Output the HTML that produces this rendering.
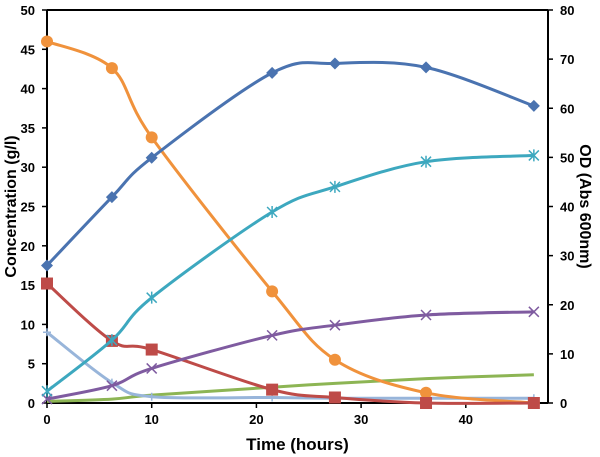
<!DOCTYPE html>
<html><head><meta charset="utf-8">
<style>
body{margin:0;background:#fff;}
svg{display:block;font-family:"Liberation Sans",sans-serif;}
</style></head>
<body>
<svg id="chart" width="600" height="457" viewBox="0 0 600 457"></svg>
<script>
const times=[0,6.2,10,21.5,27.5,36.2,46.5];
const blueDiamond=[17.5,26.2,31.2,42,43.2,42.7,37.8];
const orangeCircle=[46,42.6,33.8,14.2,5.5,1.3,0];
const tealStar=[1.5,8,13.4,24.3,27.5,30.7,31.5];
const purpleX=[0.5,2.2,4.4,8.6,9.9,11.2,11.6];
const redSquare=[15.2,7.9,6.8,1.7,0.7,0,0];
const lightBlue=[9,2.6,0.8,0.7,0.6,0.6,0.6];
const green=[0.2,0.5,1.0,2.0,2.5,3.1,3.6];
const xTicks=[0,10,20,30,40];
const yTicks=[0,5,10,15,20,25,30,35,40,45,50];
const y2Ticks=[0,10,20,30,40,50,60,70,80];

const svg=document.getElementById('chart');
const NS='http://www.w3.org/2000/svg';
const X0=47,X1=548,Y0=403,Y1=10,XMAX=47.85;
const xs=t=>X0+t*(X1-X0)/XMAX;
const ys=v=>Y0-v*(Y0-Y1)/50;
const ys2=v=>Y0-v*(Y0-Y1)/80;
function mk(tag,attrs,parent){const e=document.createElementNS(NS,tag);for(const k in attrs)e.setAttribute(k,attrs[k]);(parent||svg).appendChild(e);return e;}

let ax=mk('line',{x1:X0,y1:Y1,x2:X0,y2:Y0,stroke:'#000','stroke-width':2});


ax=mk('line',{x1:X1,y1:Y1,x2:X1,y2:Y0,stroke:'#000','stroke-width':2});


ax=mk('line',{x1:X0,y1:Y1,x2:X1,y2:Y1,stroke:'#000','stroke-width':2});


ax=mk('line',{x1:X0,y1:Y0,x2:X1,y2:Y0,stroke:'#000','stroke-width':2});



xTicks.forEach(t=>{
  mk('line',{x1:xs(t),y1:Y0,x2:xs(t),y2:Y0+5,stroke:'#000','stroke-width':1.5});
  const tx=mk('text',{x:xs(t),y:Y0+21,'text-anchor':'middle','font-size':13,'font-weight':'bold'});
  tx.textContent=t;
  
  
});
yTicks.forEach(v=>{
  mk('line',{x1:X0-5,y1:ys(v),x2:X0,y2:ys(v),stroke:'#000','stroke-width':1.5});
  const tx=mk('text',{x:X0-12,y:ys(v)+5,'text-anchor':'end','font-size':13,'font-weight':'bold'});
  tx.textContent=v;
  
  
});
y2Ticks.forEach(v=>{
  mk('line',{x1:X1,y1:ys2(v),x2:X1+5,y2:ys2(v),stroke:'#000','stroke-width':1.5});
  const tx=mk('text',{x:X1+12,y:ys2(v)+5,'text-anchor':'start','font-size':13,'font-weight':'bold'});
  tx.textContent=v;
  
  
});
let t=mk('text',{x:(X0+X1)/2,y:450,'text-anchor':'middle','font-size':17,'font-weight':'bold'});
t.textContent='Time (hours)';


t=mk('text',{x:0,y:0,'text-anchor':'middle','font-size':16,'font-weight':'bold',transform:`translate(16,${(Y0+Y1)/2}) rotate(-90)`});
t.textContent='Concentration (g/l)';


t=mk('text',{x:0,y:0,'text-anchor':'middle','font-size':16,'font-weight':'bold',transform:`translate(580,${(Y0+Y1)/2}) rotate(90)`});
t.textContent='OD (Abs 600nm)';



function smooth(pts){
  let d=`M${pts[0][0]},${pts[0][1]}`;
  for(let i=0;i<pts.length-1;i++){
    const p0=pts[i-1]||pts[i],p1=pts[i],p2=pts[i+1],p3=pts[i+2]||p2;
    const k=1/6;
    d+=` C${p1[0]+(p2[0]-p0[0])*k},${p1[1]+(p2[1]-p0[1])*k} ${p2[0]-(p3[0]-p1[0])*k},${p2[1]-(p3[1]-p1[1])*k} ${p2[0]},${p2[1]}`;
  }
  return d;
}
function series(name,vals,color,marker){
  const g=mk('g',{});
  
  
  const pts=times.map((tt,i)=>[xs(tt),ys(vals[i])]);
  mk('path',{d:smooth(pts),fill:'none',stroke:color,'stroke-width':3},g);
  pts.forEach(([x,y])=>{
    let m;
    if(marker==='diamond')m=mk('path',{d:`M${x},${y-6}L${x+6},${y}L${x},${y+6}L${x-6},${y}Z`,fill:color},g);
    else if(marker==='circle')m=mk('circle',{cx:x,cy:y,r:6,fill:color},g);
    else if(marker==='square')m=mk('rect',{x:x-6,y:y-6,width:12,height:12,fill:color},g);
    else if(marker==='x')m=mk('path',{d:`M${x-5},${y-5}L${x+5},${y+5}M${x-5},${y+5}L${x+5},${y-5}`,stroke:color,'stroke-width':1.5},g);
    else if(marker==='star')m=mk('path',{d:`M${x-5},${y-5}L${x+5},${y+5}M${x-5},${y+5}L${x+5},${y-5}M${x},${y-6}L${x},${y+6}`,stroke:color,'stroke-width':1.5},g);
    else if(marker==='plus')m=mk('path',{d:`M${x-4},${y}L${x+4},${y}M${x},${y-4}L${x},${y+4}`,stroke:color,'stroke-width':1.5},g);
    if(m){}
  });
}
series('green-series',green,'#8db554','none');
series('light-blue-series',lightBlue,'#98b5da','plus');
series('orange-series',orangeCircle,'#f0923c','circle');
series('red-series',redSquare,'#be4b48','square');
series('purple-series',purpleX,'#7f5ba0','x');
series('teal-series',tealStar,'#3da8bf','star');
series('blue-series',blueDiamond,'#4a73b0','diamond');
</script>
</body></html>
